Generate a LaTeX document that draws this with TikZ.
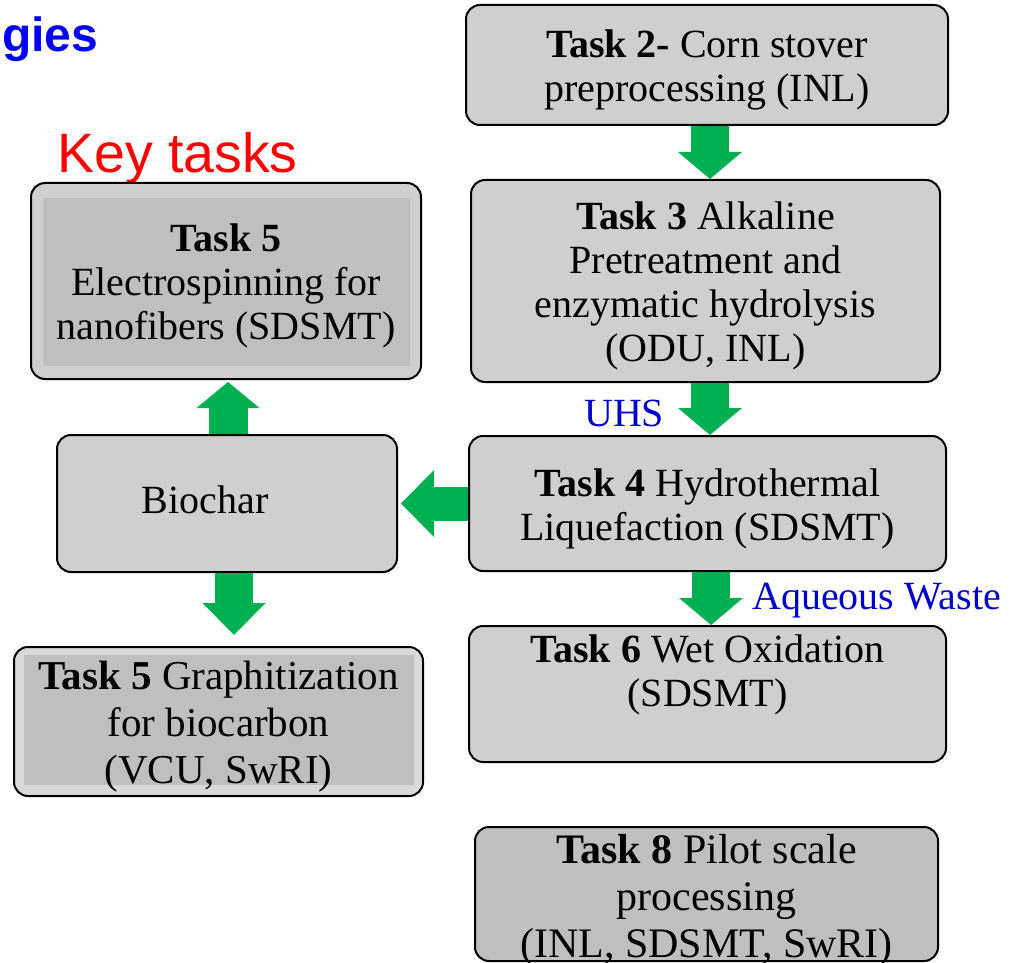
\documentclass[tikz,border=0pt]{standalone}
\usepackage{fontspec}
\setmainfont{Liberation Serif}
\newfontfamily\arialfont{Liberation Sans}
\usetikzlibrary{arrows.meta}

\definecolor{boxgray}{RGB}{208,206,206}
\definecolor{innergray}{RGB}{191,191,191}
\definecolor{lightband}{RGB}{217,217,217}
\definecolor{flowgreen}{RGB}{0,176,80}
\definecolor{noteblue}{RGB}{0,0,204}

% pushes a box text a little down
\newcommand\liftrule[1][38pt]{\rule{0pt}{#1}}

\tikzset{
  taskbox/.style={draw=black, line width=2pt, rounded corners=14pt,
                  fill=boxgray, align=center, inner sep=0pt,
                  font=\fontsize{40}{44}\selectfont},
  inset/.style n args={4}{path picture={
      \fill[innergray, sharp corners] ([shift={(#1pt,-#2pt)}]path picture bounding box.north west)
        rectangle ([shift={(-#3pt,#4pt)}]path picture bounding box.south east);}},
  flow/.style={draw=flowgreen, line width=38pt,
               -{Triangle[width=64pt,length=27pt,line width=0pt]}},
  note/.style={anchor=base west, inner sep=0pt, text=noteblue,
               font=\fontsize{40}{44}\selectfont}
}

\begin{document}
\begin{tikzpicture}[x=1pt,y=-1pt]
\useasboundingbox (0,0) rectangle (1021,963);

% headings
\node[anchor=base west, inner sep=0pt, text=blue,
      font=\arialfont\bfseries\fontsize{48}{56}\selectfont] (head) at (2,52) {gies};
\node[anchor=base west, inner sep=0pt, text=red,
      font=\arialfont\fontsize{55.5}{64}\selectfont] (keytasks) at (57,173) {Key tasks};

% right column
\node[taskbox, minimum width=482pt, minimum height=120pt] (t2) at (707,65)
  {\liftrule\textbf{Task 2-} Corn stover\\preprocessing (INL)};
\node[taskbox, minimum width=469pt, minimum height=202pt] (t3) at (705.5,281)
  {\liftrule\textbf{Task 3} Alkaline\\Pretreatment and\\enzymatic hydrolysis\\(ODU, INL)};
\node[taskbox, minimum width=477pt, minimum height=135pt] (t4) at (707.5,503.5)
  {\liftrule\textbf{Task 4} Hydrothermal\\Liquefaction (SDSMT)};
\node[taskbox, minimum width=477pt, minimum height=136pt] (t6) at (707.5,694)
  {\textbf{Task 6} Wet Oxidation\\(SDSMT)\\\rule[-3pt]{0pt}{0pt}};
\node[taskbox, fill=innergray, minimum width=463pt, minimum height=134pt,
      font=\fontsize{42}{47}\selectfont] (t8) at (706.5,894)
  {\liftrule[32pt]\textbf{Task 8} Pilot scale\\processing\\\smash{(INL, SDSMT, SwRI)}};

% left column
\node[taskbox, inset={12}{15}{11}{13}, minimum width=390pt, minimum height=196pt] (t5e) at (226,281)
  {\liftrule\textbf{Task 5}\\Electrospinning for\\nanofibers (SDSMT)};
\node[taskbox, minimum width=340pt, minimum height=137pt,
      label={[xshift=-22pt, yshift=4pt, font=\fontsize{40}{44}\selectfont]center:Biochar}] (bio) at (227,503.5) {};
\node[taskbox, fill=lightband, inset={10}{8}{9}{11}, minimum width=409pt, minimum height=149pt,
      font=\fontsize{41}{47}\selectfont] (t5g) at (218.5,721.5)
  {\liftrule\textbf{Task 5} Graphitization\\for biocarbon\\(VCU, SwRI)};

% flow arrows
\draw[flow] ([xshift=3pt]t2.south) -- ([xshift=3pt]t2.south |- t3.north);
\draw[flow] ([xshift=4.5pt]t3.south) -- ([xshift=4.5pt]t3.south |- t4.north);
\draw[flow] ([xshift=3.5pt]t4.south) -- ([xshift=3.5pt]t4.south |- t6.north);
\draw[flow, line width=34pt, -{Triangle[width=67pt,length=33pt,line width=0pt]}]
  (t4.west) -- ([xshift=3pt]bio.east);
\draw[flow, line width=39pt, -{Triangle[width=63pt,length=26pt,line width=0pt]}]
  ([xshift=1pt]bio.north) -- ([xshift=1pt,yshift=-2pt]bio.north |- t5e.south);
\draw[flow, -{Triangle[width=63pt,length=32pt,line width=0pt]}]
  ([xshift=7pt]bio.south) -- ([xshift=7pt,yshift=11pt]bio.south |- t5g.north);

% stream labels
\node[note] (uhs) at (584,426) {UHS};
\node[note] (aqwaste) at (752,609) {Aqueous Waste};
\end{tikzpicture}
\end{document}
